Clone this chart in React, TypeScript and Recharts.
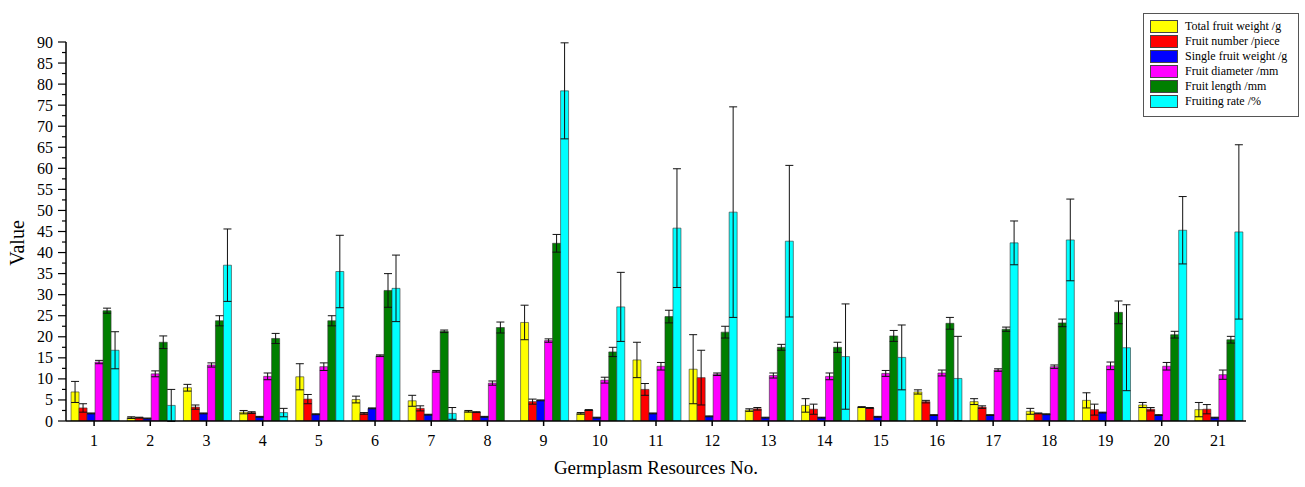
import React from "react";
import { BarChart, Bar, XAxis, YAxis, ErrorBar } from "recharts";

// Germplasm resource numbers
const categories = [
  "1", "2", "3", "4", "5", "6", "7", "8", "9", "10", "11",
  "12", "13", "14", "15", "16", "17", "18", "19", "20", "21",
];

const totalWeight = [6.9, 0.8, 7.9, 2.1, 10.5, 5.1, 4.8, 2.3, 23.4, 1.8, 14.5, 12.3, 2.6, 3.7, 3.3, 6.9, 4.6, 2.3, 4.9, 3.8, 2.7];
const totalWeightErr = [2.5, 0.2, 0.8, 0.4, 3.1, 0.8, 1.3, 0.2, 4.1, 0.2, 4.2, 8.2, 0.3, 1.6, 0.1, 0.5, 0.7, 0.7, 1.8, 0.6, 1.7];

const fruitNumber = [3.1, 0.8, 3.3, 2.0, 5.2, 1.8, 3.0, 2.1, 4.6, 2.6, 7.5, 10.3, 2.9, 2.8, 3.1, 4.6, 3.3, 1.8, 2.7, 2.8, 2.8];
const fruitNumberErr = [1.0, 0.1, 0.5, 0.2, 1.1, 0.2, 0.6, 0.1, 0.6, 0.1, 1.4, 6.5, 0.3, 1.2, 0.1, 0.3, 0.3, 0.1, 1.3, 0.4, 1.1];

const singleWeight = [1.8, 0.6, 1.8, 1.0, 1.6, 3.0, 1.5, 1.0, 4.9, 0.8, 1.8, 1.1, 0.8, 0.8, 1.0, 1.4, 1.4, 1.6, 2.0, 1.4, 0.8];
const singleWeightErr = [0.1, 0.1, 0.1, 0.1, 0.1, 0.1, 0.1, 0.1, 0.1, 0.1, 0.1, 0.1, 0.1, 0.1, 0.1, 0.1, 0.1, 0.1, 0.1, 0.1, 0.1];

const fruitDiameter = [14.0, 11.2, 13.3, 10.6, 12.9, 15.5, 11.8, 9.0, 19.1, 9.7, 13.0, 11.1, 10.8, 10.6, 11.3, 11.4, 12.1, 12.9, 13.1, 13.0, 11.0];
const fruitDiameterErr = [0.4, 0.7, 0.5, 0.8, 0.9, 0.2, 0.2, 0.5, 0.4, 0.7, 0.9, 0.3, 0.6, 0.8, 0.7, 0.7, 0.3, 0.4, 0.9, 0.9, 1.1];

const fruitLength = [26.2, 18.7, 23.8, 19.6, 23.8, 31.0, 21.3, 22.2, 42.2, 16.4, 24.8, 21.1, 17.5, 17.5, 20.2, 23.2, 21.8, 23.3, 25.8, 20.5, 19.3];
const fruitLengthErr = [0.6, 1.5, 1.2, 1.2, 1.2, 4.0, 0.3, 1.3, 2.1, 1.1, 1.5, 1.4, 0.7, 1.2, 1.3, 1.4, 0.5, 0.9, 2.7, 0.8, 0.8];

const fruitingRate = [16.8, 3.7, 37.0, 2.0, 35.5, 31.5, 1.8, 0, 78.4, 27.1, 45.8, 49.6, 42.7, 15.3, 15.1, 10.1, 42.3, 43.0, 17.4, 45.3, 44.9];
const fruitingRateErr = [4.4, 3.8, 8.6, 1.0, 8.6, 7.9, 1.4, 0, 11.4, 8.2, 14.1, 25.0, 18.0, 12.5, 7.7, 10.0, 5.2, 9.7, 10.2, 8.0, 20.7];

const yTicks = Array.from({ length: 37 }, (_, i) => i * 2.5);

const series = [
  { key: "tw", name: "Total fruit weight /g", color: "#FFFF00", values: totalWeight, errors: totalWeightErr },
  { key: "fn", name: "Fruit number /piece", color: "#FF0000", values: fruitNumber, errors: fruitNumberErr },
  { key: "sw", name: "Single fruit weight /g", color: "#0000FF", values: singleWeight, errors: singleWeightErr },
  { key: "fd", name: "Fruit diameter /mm", color: "#FF00FF", values: fruitDiameter, errors: fruitDiameterErr },
  { key: "fl", name: "Fruit length /mm", color: "#007F00", values: fruitLength, errors: fruitLengthErr },
  { key: "fr", name: "Fruiting rate /%", color: "#00FFFF", values: fruitingRate, errors: fruitingRateErr },
];

const data = categories.map((name, i) => {
  const row: Record<string, string | number> = { name };
  series.forEach((s) => {
    row[s.key] = s.values[i];
    row[s.key + "Err"] = s.errors[i];
  });
  return row;
});

const FONT = "'Liberation Serif', 'Times New Roman', serif";

// y ticks every 2.5, labels only on the 5s
const YTick = (props: any) => {
  const { x, y, payload } = props;
  const major = payload.value % 5 === 0;
  return (
    <g>
      <line x1={x} x2={x - (major ? 8 : 4)} y1={y} y2={y} stroke="#000" strokeWidth={1.2} />
      {major && (
        <text
          x={x - 13}
          y={y}
          textAnchor="end"
          dominantBaseline="central"
          fontFamily={FONT}
          fontSize={16}
          fill="#000"
        >
          {payload.value}
        </text>
      )}
    </g>
  );
};

const App: React.FC = () => {
  return (
    <div style={{ position: "absolute", left: 0, top: 0, width: 1305, height: 487, background: "#fff" }}>
      <BarChart
        width={1305}
        height={487}
        data={data}
        margin={{ top: 42, right: 59, bottom: 36, left: 0 }}
        barCategoryGap="9%"
        barGap={0}
      >
        <XAxis
          dataKey="name"
          height={30}
          interval={0}
          tickSize={5}
          tickMargin={9}
          axisLine={{ stroke: "#000", strokeWidth: 1.5 }}
          tickLine={{ stroke: "#000", strokeWidth: 1.5 }}
          tick={{ fill: "#000", fontFamily: FONT, fontSize: 16 }}
          label={{
            value: "Germplasm Resources No.",
            position: "bottom",
            offset: 10,
            fill: "#000",
            fontFamily: FONT,
            fontSize: 19,
          }}
        />
        <YAxis
          width={66}
          domain={[0, 90]}
          ticks={yTicks}
          interval={0}
          allowDataOverflow
          tickSize={0}
          tickMargin={0}
          tickLine={false}
          axisLine={{ stroke: "#000", strokeWidth: 1.5 }}
          tick={<YTick />}
          label={{
            content: () => (
              <text
                x={17}
                y={243}
                transform="rotate(-90 17 243)"
                textAnchor="middle"
                dominantBaseline="central"
                fontFamily={FONT}
                fontSize={20}
                fill="#000"
              >
                Value
              </text>
            ),
          }}
        />
        {series.map((s) => (
          <Bar
            key={s.key}
            dataKey={s.key}
            name={s.name}
            fill={s.color}
            stroke="#333"
            strokeWidth={0.6}
            isAnimationActive={false}
          >
            <ErrorBar
              dataKey={s.key + "Err"}
              width={4}
              stroke="#111"
              strokeWidth={1}
              direction="y"
              isAnimationActive={false}
            />
          </Bar>
        ))}
      </BarChart>

      {/* legend box, top right */}
      <div
        style={{
          position: "absolute",
          left: 1143,
          top: 13,
          width: 154,
          height: 102,
          border: "1px solid #555",
          background: "#fff",
          boxSizing: "content-box",
          fontFamily: FONT,
          fontSize: 12,
          color: "#000",
        }}
      >
        {series.map((s, i) => (
          <div
            key={s.key}
            style={{
              position: "absolute",
              left: 6,
              top: 6 + i * 15,
              height: 13,
              display: "flex",
              alignItems: "center",
              whiteSpace: "nowrap",
            }}
          >
            <span
              style={{
                display: "inline-block",
                width: 26,
                height: 11,
                background: s.color,
                border: "1px solid #444",
                marginRight: 7,
              }}
            />
            <span>{s.name}</span>
          </div>
        ))}
      </div>
    </div>
  );
};

export default App;
